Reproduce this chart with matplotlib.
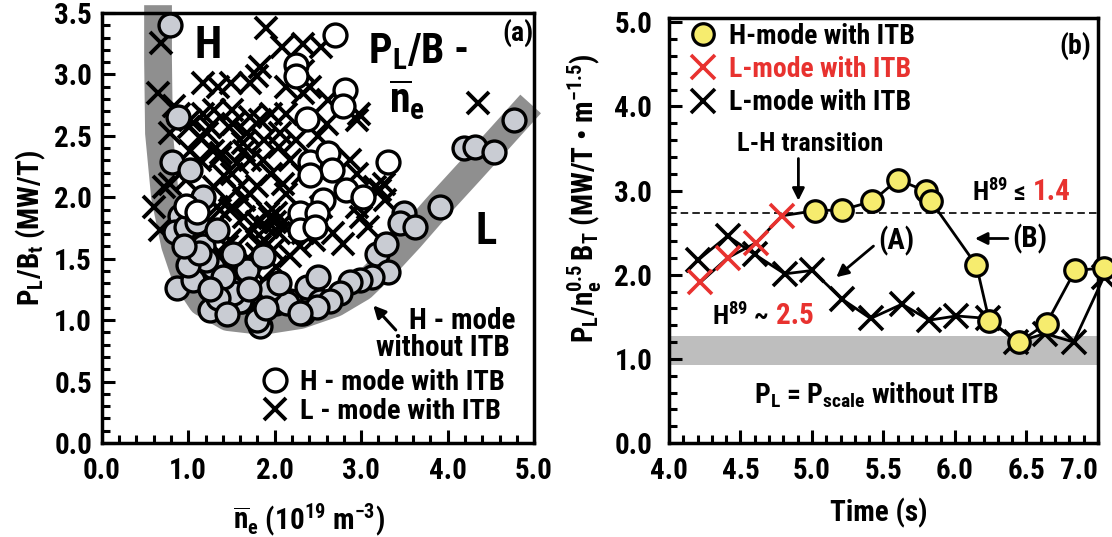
import matplotlib
matplotlib.use("Agg")
import matplotlib.pyplot as plt
from matplotlib import font_manager as fm
from matplotlib.lines import Line2D
from matplotlib.ticker import MultipleLocator, FixedLocator, FixedFormatter

# ---------------- data ----------------
# (a) P_L/B_t versus line-averaged density
h_noitb_ne = [0.79, 0.885, 0.81, 1.02, 0.90, 1.17, 0.85, 0.98, 1.10, 1.17, 1.33, 1.14, 1.29,
              0.87, 1.06, 1.25, 1.48, 1.62, 1.83, 1.79, 2.02, 2.18, 2.37, 2.33, 1.68, 1.87,
              1.52, 3.49, 3.45, 3.62, 3.91, 3.18, 3.29, 3.31, 3.12, 2.99, 2.87, 2.75, 2.50,
              2.52, 2.14, 1.60, 1.52, 1.21, 2.64, 2.49, 2.29, 4.19, 4.32, 4.54, 4.77, 1.40,
              1.00, 1.12, 1.35, 1.95, 2.05, 1.70, 1.90, 1.45, 1.25, 0.95]
h_noitb_p = [3.40, 2.655, 2.29, 2.22, 1.85, 2.00, 1.72, 1.76, 1.80, 1.60, 1.73, 1.38, 1.43,
             1.26, 1.33, 1.08, 1.27, 1.16, 0.95, 1.00, 1.14, 1.16, 1.27, 1.06, 1.41, 1.52,
             1.54, 1.87, 1.79, 1.76, 1.92, 1.54, 1.62, 1.39, 1.35, 1.33, 1.31, 1.22, 1.35,
             1.16, 1.14, 1.16, 1.22, 1.49, 1.16, 1.11, 1.06, 2.40, 2.41, 2.37, 2.63, 1.35,
             1.45, 1.55, 1.18, 1.25, 1.30, 1.25, 1.10, 1.05, 1.25, 1.60]

h_itb_ne = [2.70, 2.25, 2.25, 2.81, 2.79, 2.37, 3.31, 2.41, 2.62, 2.66, 2.41, 2.83, 3.02,
            2.56, 2.29, 2.49, 2.29, 2.47, 0.97, 1.10]
h_itb_p = [3.32, 3.08, 2.99, 2.87, 2.74, 2.64, 2.29, 2.29, 2.36, 2.22, 2.18, 2.06, 2.00,
           1.98, 1.87, 1.87, 1.73, 1.76, 1.93, 1.88]

l_itb_ne = [0.68, 0.65, 1.90, 2.09, 2.33, 2.54, 1.83, 1.17, 1.34, 1.50, 1.72, 1.80, 2.13,
            2.33, 2.41, 2.33, 2.97, 4.35, 0.89, 1.01, 1.30, 1.22, 1.51, 1.47, 1.71, 1.96,
            2.13, 1.63, 1.88, 1.38, 1.14, 1.71, 2.05, 2.25, 1.96, 1.51, 1.30, 0.97, 1.71,
            2.13, 2.33, 0.72, 0.60, 1.14, 1.51, 1.92, 2.05, 1.71, 1.30, 1.38, 1.80, 2.33,
            2.54, 2.87, 2.95, 3.16, 3.28, 3.00, 3.08, 2.46, 2.62, 2.95, 2.95, 2.79, 2.68,
            3.22, 3.26, 2.02, 1.91, 1.98, 1.83, 2.18, 2.29, 1.71, 1.60, 1.45, 1.37, 1.64,
            1.56, 1.79, 2.10, 1.87, 1.64, 1.37, 1.52, 1.83, 2.06, 1.25, 2.18, 0.67, 0.79,
            1.02, 1.14, 1.29, 1.68, 1.56, 1.41, 1.64, 1.48, 1.33, 1.48, 1.33, 2.02, 1.87,
            1.17, 0.83, 1.02, 0.79, 1.20, 1.55, 2.50, 2.60, 2.00, 2.08, 1.95, 1.80, 1.88]
l_itb_p = [3.26, 2.85, 3.38, 3.22, 3.25, 3.22, 3.06, 2.93, 2.90, 2.93, 2.93, 2.99, 2.90,
           3.03, 2.90, 2.85, 2.68, 2.77, 2.68, 2.57, 2.71, 2.52, 2.71, 2.57, 2.65, 2.68,
           2.68, 2.44, 2.47, 2.36, 2.30, 2.30, 2.41, 2.47, 2.19, 2.19, 2.08, 2.14, 2.03,
           2.03, 2.19, 2.08, 1.92, 1.87, 1.92, 1.87, 1.71, 1.71, 1.71, 1.54, 1.54, 1.71,
           1.92, 2.30, 2.19, 2.08, 1.98, 1.84, 1.76, 1.65, 2.79, 2.63, 1.92, 1.62, 1.71,
           2.06, 2.11, 1.87, 1.76, 1.57, 1.60, 1.52, 1.60, 1.49, 1.38, 1.60, 1.90, 1.84,
           2.06, 2.09, 2.11, 2.30, 2.38, 2.33, 2.60, 2.63, 2.52, 2.57, 2.30, 1.73, 2.11,
           2.63, 2.49, 2.38, 2.52, 2.28, 2.17, 1.98, 1.90, 1.92, 1.65, 1.54, 1.43, 1.33,
           2.68, 2.74, 2.38, 2.52, 1.45, 1.40, 2.50, 2.60, 1.80, 1.78, 1.83, 1.80, 1.65]

# U-shaped guide band through the H-mode (no ITB) points
band_ne = [0.651, 0.651, 0.662, 0.732, 0.847, 0.975, 1.160, 1.460, 1.853, 2.293, 2.697,
           3.009, 3.275, 3.564, 3.876, 4.257, 4.604, 4.960]
band_p = [3.564, 3.116, 2.522, 2.002, 1.611, 1.343, 1.147, 1.025, 0.993, 1.041, 1.139,
          1.269, 1.448, 1.668, 1.920, 2.213, 2.482, 2.760]

# (b) time traces
t_h = [5.02, 5.21, 5.42, 5.60, 5.80, 5.83, 6.15, 6.24, 6.45, 6.64, 6.84, 7.04]
p_h = [2.76, 2.77, 2.87, 3.13, 2.99, 2.88, 2.11, 1.45, 1.20, 1.42, 2.05, 2.08]
t_lred = [4.22, 4.41, 4.61, 4.79]
p_lred = [1.91, 2.20, 2.38, 2.70]
t_l = [4.20, 4.41, 4.60, 4.81, 5.00, 5.21, 5.41, 5.63, 5.82, 6.01, 6.23, 6.43, 6.63,
       6.83, 7.04]
p_l = [2.17, 2.46, 2.24, 2.01, 2.05, 1.71, 1.48, 1.65, 1.46, 1.51, 1.48, 1.20, 1.30,
       1.20, 1.97]
h89_threshold = 2.73
pscale_lo, pscale_hi = 0.93, 1.27

a_xticks = [0, 1, 2, 3, 4, 5]
a_yticks = [0, 0.5, 1, 1.5, 2, 2.5, 3, 3.5]
b_xticks = [4.0, 4.5, 5.0, 5.5, 6.0, 6.5, 7.0]
b_yticks = [0, 1, 2, 3, 4, 5]

# ---------------- style ----------------
names = {f.name for f in fm.fontManager.ttflist}
FONT = next((f for f in ["Liberation Sans Narrow", "Roboto Condensed",
                         "Open Sans Condensed", "Liberation Sans", "DejaVu Sans"]
             if f in names), "DejaVu Sans")
WEIGHT = 800

plt.rcParams.update({
    "font.family": [FONT, "DejaVu Sans"],
    "font.weight": WEIGHT,
    "axes.labelweight": WEIGHT,
    "font.size": 21,
    "mathtext.fontset": "custom",
    "mathtext.rm": f"{FONT}:weight={WEIGHT}",
    "mathtext.it": f"{FONT}:weight={WEIGHT}",
    "mathtext.bf": f"{FONT}:weight={WEIGHT}",
    "mathtext.sf": f"{FONT}:weight={WEIGHT}",
    "axes.linewidth": 2.5,
})

RED = "#e8322f"
YELLOW = "#f6ec6e"
LIGHTGRAY = "#c9ccd3"

fig = plt.figure(figsize=(11.12, 5.37), dpi=100)
axa = fig.add_axes([0.0915, 0.175, 0.3888, 0.8007])
axb = fig.add_axes([0.6016, 0.175, 0.3858, 0.7915])


def style_axis(ax, xmaj, xmin, ymaj, ymin, xfmt, yfmt, xpad, ypad):
    ax.xaxis.set_major_locator(FixedLocator(xmaj))
    ax.xaxis.set_major_formatter(FixedFormatter([xfmt % v for v in xmaj]))
    ax.xaxis.set_minor_locator(MultipleLocator(xmin))
    ax.yaxis.set_major_locator(FixedLocator(ymaj))
    ax.yaxis.set_major_formatter(FixedFormatter([yfmt % v for v in ymaj]))
    ax.yaxis.set_minor_locator(MultipleLocator(ymin))
    ax.tick_params(which="both", direction="in", top=False, right=False, width=2.2)
    ax.tick_params(which="major", length=9.5)
    ax.tick_params(which="minor", length=5.5)
    ax.tick_params(axis="x", which="major", pad=xpad)
    ax.tick_params(axis="y", which="major", pad=ypad)


# ---------------- panel (a) ----------------
axa.set_xlim(0, 5)
axa.set_ylim(0, 3.5)
style_axis(axa, a_xticks, 0.2, a_yticks, 0.1, "%.1f", "%.1f", 10, 7)

axa.plot(band_ne, band_p, color="#8f8f8f", lw=20, solid_capstyle="butt",
         solid_joinstyle="round", clip_on=False, zorder=1)
axa.plot(l_itb_ne, l_itb_p, ls="none", marker="x", ms=16, mew=2.8, color="k", zorder=3)
axa.plot(h_noitb_ne, h_noitb_p, ls="none", marker="o", ms=16.5, mew=2.4, mfc=LIGHTGRAY,
         mec="k", zorder=4)
axa.plot(h_itb_ne, h_itb_p, ls="none", marker="o", ms=16.5, mew=2.4, mfc="white",
         mec="k", zorder=5)

axa.text(1.23, 3.23, "H", fontsize=32, ha="center", va="center", zorder=6)
axa.text(4.44, 1.72, "L", fontsize=32, ha="center", va="center", zorder=6)
axa.text(3.08, 3.09, r"P$_\mathrm{L}$/B -", fontsize=30, ha="left", va="baseline", zorder=6)
axa.text(3.53, 2.79, r"$\overline{\mathrm{n}}_\mathrm{e}$", fontsize=30, ha="center",
         va="center", zorder=6)
axa.text(4.81, 3.34, "(a)", fontsize=20, ha="center", va="center", zorder=6)
axa.text(4.17, 0.99, "H - mode", fontsize=21, ha="center", va="center", zorder=6)
axa.text(3.94, 0.77, "without ITB", fontsize=21, ha="center", va="center", zorder=6)
axa.annotate("", xy=(3.14, 1.12), xytext=(3.40, 0.92),
             arrowprops=dict(arrowstyle="-|>", lw=2.2, color="k", mutation_scale=18,
                             shrinkA=0, shrinkB=0), zorder=6)

leg_a = axa.legend(
    [Line2D([], [], ls="none", marker="o", ms=16.5, mew=2.4, mfc="white", mec="k"),
     Line2D([], [], ls="none", marker="x", ms=16, mew=2.8, color="k")],
    ["H - mode with ITB", "L - mode with ITB"],
    loc="upper left", bbox_to_anchor=(0.368, 0.172), frameon=False, borderpad=0,
    borderaxespad=0, handlelength=1.0, handletextpad=0.36, labelspacing=0.08,
    fontsize=20.5)

axa.set_ylabel(r"P$_\mathrm{L}$/B$_\mathrm{t}$ (MW/T)", fontsize=21)
axa.yaxis.set_label_coords(-0.124, 0.5)
axa.set_xlabel(r"$\overline{\mathrm{n}}_\mathrm{e}$ (10$^{19}$ m$^{-3}$)", fontsize=21)
axa.xaxis.set_label_coords(0.48, -0.135)

# ---------------- panel (b) ----------------
axb.set_xlim(4.0, 7.0)
axb.set_ylim(0, 5.05)
style_axis(axb, b_xticks, 0.1, b_yticks, 0.2, "%.1f", "%.1f", 10, 12)
for lab in axb.get_xticklabels():
    if lab.get_text() == "7.0":
        lab.set_horizontalalignment("right")

axb.axhspan(pscale_lo, pscale_hi, color="#bebebe", lw=0, zorder=0)
axb.axhline(h89_threshold, color="k", lw=1.2, ls=(0, (4.5, 2.5)), zorder=1)

axb.plot(t_l, p_l, color="k", lw=2.0, zorder=2, clip_on=False)
axb.plot(t_lred + t_h, p_lred + p_h, color="k", lw=2.0, zorder=2, clip_on=False)
axb.plot(t_l, p_l, ls="none", marker="x", ms=17, mew=2.6, color="k", zorder=3, clip_on=False)
axb.plot(t_lred, p_lred, ls="none", marker="x", ms=17, mew=2.6, color=RED, zorder=4)
axb.plot(t_h, p_h, ls="none", marker="o", ms=15.5, mew=2.3, mfc=YELLOW, mec="k",
         zorder=5, clip_on=False)

leg_b = axb.legend(
    [Line2D([], [], ls="none", marker="o", ms=15.5, mew=2.3, mfc=YELLOW, mec="k"),
     Line2D([], [], ls="none", marker="x", ms=17, mew=2.6, color=RED),
     Line2D([], [], ls="none", marker="x", ms=17, mew=2.6, color="k")],
    ["H-mode with ITB", "L-mode with ITB", "L-mode with ITB"],
    loc="upper left", bbox_to_anchor=(0.048, 0.988), frameon=False, borderpad=0,
    borderaxespad=0, handlelength=1.0, handletextpad=0.43, labelspacing=0.22,
    fontsize=20)
leg_b.get_texts()[1].set_color(RED)

axb.text(6.84, 4.72, "(b)", fontsize=20, ha="center", va="center")
axb.text(4.99, 3.55, "L-H transition", fontsize=19, ha="center", va="center")
arrow = dict(arrowstyle="-|>", lw=2.0, color="k", mutation_scale=18, shrinkA=0, shrinkB=0)
axb.annotate("", xy=(4.905, 2.88), xytext=(4.905, 3.38), arrowprops=arrow)
axb.text(5.59, 2.40, "(A)", fontsize=21, ha="center", va="center")
axb.annotate("", xy=(5.17, 1.97), xytext=(5.43, 2.34), arrowprops=arrow)
axb.text(6.52, 2.42, "(B)", fontsize=21, ha="center", va="center")
axb.annotate("", xy=(6.14, 2.43), xytext=(6.37, 2.43), arrowprops=arrow)

t1 = axb.text(6.12, 2.88, "H$^{89}$ \u2264", fontsize=19, ha="left", va="baseline")
axb.annotate("1.4", xy=(1, 0), xycoords=t1, xytext=(5, 0), textcoords="offset points",
             ha="left", va="bottom", fontsize=21, color=RED)
t2 = axb.text(4.30, 1.40, "H$^{89}$ ~", fontsize=19, ha="left", va="baseline")
axb.annotate("2.5", xy=(1, 0), xycoords=t2, xytext=(5, 0), textcoords="offset points",
             ha="left", va="bottom", fontsize=21, color=RED)

axb.text(5.45, 0.47, r"P$_\mathrm{L}$ = P$_\mathrm{scale}$ without ITB", fontsize=20,
         ha="center", va="baseline")

axb.set_ylabel(r"P$_\mathrm{L}$/n$_\mathrm{e}^{0.5}$$\,$B$_\mathrm{T}$ (MW/T • m$^{-1.5}$)",
               fontsize=21)
axb.yaxis.set_label_coords(-0.152, 0.575)
axb.set_xlabel("Time (s)", fontsize=21)
axb.xaxis.set_label_coords(0.49, -0.13)

fig.savefig("out.png", dpi=100)
